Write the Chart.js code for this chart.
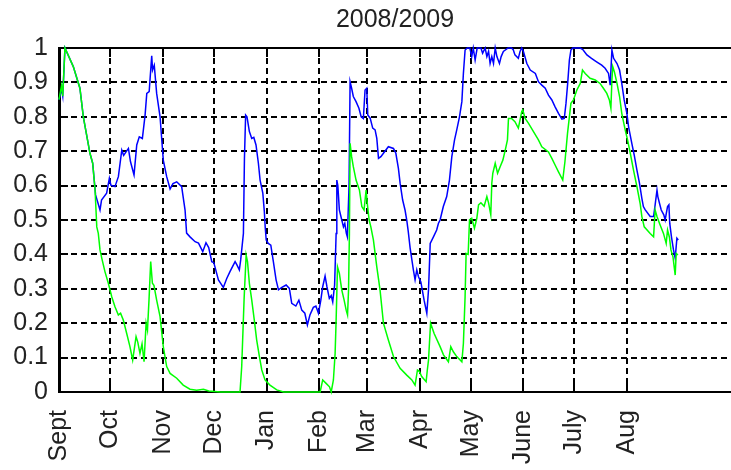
<!DOCTYPE html>
<html lang="en">
<head>
  <meta charset="UTF-8">
  <title>2008/2009</title>
  <script src="https://cdn.jsdelivr.net/npm/chart.js"></script>
  <style>
    body { margin: 0; background: #fff; }
    #wrap { width: 731px; height: 470px; position: relative; }
  </style>
</head>
<body>
  <div id="wrap"><canvas id="chart"></canvas></div>

  <script>
    // month ticks (day of season, Sept 1 = 0)
    const monthNames = ['Sept', 'Oct', 'Nov', 'Dec', 'Jan', 'Feb', 'Mar', 'Apr', 'May', 'June', 'July', 'Aug'];
    const monthStarts = [0, 30, 61, 91, 122, 153, 181, 212, 242, 273, 303, 334];

    // blue series
    const blueDays = [0, 1.5, 2.2, 3.5, 8.4, 12.3, 14.3, 18.2, 19.8, 20.8, 21.5, 24.1, 25, 28, 29.6, 30.5, 32.9, 34.9, 36.9, 38,
      40.8, 42, 44.1, 45.7, 47.2, 49, 50.6, 51.6, 53, 54.5, 55, 56, 57.4, 59.4, 61.3, 63.3, 65.3, 67, 69.2, 72.1,
      74.1, 75, 77, 80, 82, 84.5, 86.4, 88, 89.8, 91, 93.7, 96.6, 98.6, 100.5, 103.5, 104.5, 106, 106.8, 108.4, 109,
      109.7, 110.5, 111.9, 113.3, 114.5, 115.8, 117.2, 118.2, 119.8, 120.7, 121.2, 121.8, 123, 124.5, 126, 127.6, 129, 131, 133.5, 135.4,
      136.8, 139.2, 141, 142.7, 144.5, 146, 147.5, 149.5, 151, 152.5, 153.9, 155, 156.4, 157.5, 158.9, 160, 160.9, 162, 162.9, 163.3,
      163.9, 164.8, 167.2, 168, 168.9, 169.5, 170.5, 171.1, 172, 173, 174.6, 176.3, 177.6, 178.9, 179.9, 180.9, 181.5, 182.9, 184.4, 185.8,
      186.8, 187.8, 189.2, 190.7, 193.6, 196.6, 198, 199.5, 200.5, 202, 203.4, 204.4, 205.3, 206.4, 208.3, 209.3, 210.3, 211.3, 212.7, 214.6,
      216.2, 217.2, 218.2, 220.1, 222, 223, 224, 225.9, 227.9, 229.5, 230.9, 232.5, 233.8, 235.4, 236.8, 237.7, 238.7, 240, 241.5, 242.6,
      243.5, 244.6, 245.8, 248, 249, 250.5, 251.5, 252.5, 253.4, 254.4, 255.4, 256.4, 257.4, 258.9, 259.9, 261.2, 264, 266, 267, 268,
      270, 271, 272, 273, 275, 277, 280, 281.8, 283.8, 285.8, 287.7, 289.7, 291.6, 293.6, 295.6, 297, 298, 299, 300, 300.9,
      302, 306.4, 308, 310.3, 313, 316, 319, 321, 323, 324, 325, 326, 328, 329.5, 330.8, 332.2, 333.8, 334.8, 336.7, 338.1,
      339.7, 341.2, 342.6, 343.5, 344.5, 347.5, 349.5, 350.4, 351.5, 352, 353, 354, 355.5, 356.3, 357, 357.7, 358.5, 359, 360, 361.2,
      362.2, 363.2, 364];
    const blueVals = [0.85, 0.88, 0.86, 1.0, 0.946, 0.883, 0.80, 0.694, 0.665, 0.611, 0.573, 0.529, 0.558, 0.578, 0.621, 0.601, 0.597, 0.626, 0.703, 0.688,
      0.708, 0.67, 0.631, 0.718, 0.742, 0.737, 0.805, 0.868, 0.873, 0.977, 0.936, 0.95, 0.868, 0.80, 0.674, 0.626, 0.59, 0.606, 0.611, 0.597,
      0.529, 0.462, 0.451, 0.437, 0.433, 0.408, 0.434, 0.42, 0.379, 0.376, 0.326, 0.304, 0.33, 0.35, 0.379, 0.37, 0.355, 0.384, 0.461, 0.679,
      0.805, 0.80, 0.757, 0.737, 0.74, 0.718, 0.665, 0.616, 0.578, 0.524, 0.48, 0.442, 0.432, 0.427, 0.379, 0.326, 0.297, 0.304, 0.311, 0.301,
      0.258, 0.25, 0.267, 0.238, 0.229, 0.195, 0.224, 0.246, 0.25, 0.229, 0.267, 0.306, 0.337, 0.306, 0.272, 0.28, 0.262, 0.311, 0.461, 0.616,
      0.60, 0.529, 0.48, 0.49, 0.461, 0.451, 0.60, 0.902, 0.883, 0.859, 0.844, 0.825, 0.80, 0.795, 0.878, 0.883, 0.805, 0.796, 0.767, 0.762,
      0.737, 0.679, 0.684, 0.694, 0.713, 0.708, 0.694, 0.65, 0.607, 0.558, 0.529, 0.50, 0.466, 0.418, 0.355, 0.326, 0.355, 0.335, 0.32, 0.267,
      0.229, 0.297, 0.432, 0.451, 0.471, 0.49, 0.50, 0.539, 0.568, 0.616, 0.684, 0.733, 0.762, 0.80, 0.844, 0.926, 0.994, 1.0, 1.0, 0.975,
      1.0, 0.965, 1.0, 1.0, 0.985, 1.0, 0.975, 0.99, 0.955, 0.975, 0.955, 1.0, 0.975, 0.955, 0.975, 0.99, 1.0, 1.0, 0.995, 0.98,
      0.97, 0.99, 1.0, 0.99, 0.955, 0.936, 0.926, 0.902, 0.892, 0.883, 0.863, 0.849, 0.829, 0.81, 0.793, 0.795, 0.839, 0.897, 0.965, 0.994,
      1.0, 1.0, 0.995, 0.98, 0.97, 0.96, 0.95, 0.941, 0.926, 0.892, 0.994, 0.97, 0.955, 0.936, 0.897, 0.849, 0.81, 0.771, 0.723, 0.689,
      0.645, 0.607, 0.563, 0.539, 0.53, 0.51, 0.51, 0.544, 0.587, 0.568, 0.548, 0.529, 0.515, 0.50, 0.52, 0.539, 0.544, 0.49, 0.451, 0.413,
      0.389, 0.447, 0.442];

    // green series
    const greenDays = [0, 1.5, 2.2, 3.5, 8.4, 12.3, 14.3, 18.2, 19.8, 21.2, 22.2, 23.1, 24.1, 25.1, 27, 29, 31, 32.9, 34.9, 36.2,
      37.8, 39.8, 41.7, 43.3, 45.3, 46.3, 47.6, 48.8, 50, 51.2, 52, 52.9, 53.9, 54.9, 55.8, 57.4, 59.4, 61.3, 63.3, 65.3,
      69.2, 73, 77, 80.9, 84.9, 88, 95, 106.4, 107.4, 108.8, 110, 110.8, 111.9, 113.3, 114.8, 116.2, 117.8, 119.2, 121.1, 124,
      128, 132, 153.5, 155, 157, 159, 160, 161.3, 162.3, 162.9, 163.7, 164.8, 166.2, 167.6, 168.8, 169.6, 170.2, 170.7, 171.1, 172,
      173, 174.6, 176.6, 178, 179.3, 180.5, 181.3, 182.3, 183.3, 184.8, 186.8, 188.7, 190.7, 193.6, 196.6, 200.5, 204.4, 207.4, 209.3, 210.7,
      211.8, 213.2, 215.8, 216.5, 217.2, 218.4, 220.5, 224, 226, 228.9, 230.3, 231.8, 233.8, 236.8, 237.7, 238.7, 239.3, 240.5, 241.3, 242.6,
      244.2, 245.6, 246.6, 248, 249.9, 251.5, 252.5, 253.8, 254.4, 255, 256.4, 257.8, 259.3, 260.9, 262.3, 263.6, 264.2, 266, 268, 270,
      271, 272, 272.6, 274, 276, 278.9, 281.8, 283.8, 287.7, 289.7, 291.6, 293.6, 296.1, 297.4, 298.9, 300, 300.9, 302.4, 304.4, 306.4,
      307.7, 309.3, 312.2, 315.2, 318, 320, 322, 323.5, 324.4, 325, 325.5, 326.5, 328, 329.5, 330.8, 332.8, 334.2, 335.8, 337.7, 339.7,
      341.6, 342.6, 344, 347.5, 349.5, 350.4, 351.5, 353, 355.3, 356.9, 357.7, 358.8, 359.7, 360.9, 362.2, 362.8, 363.8];
    const greenVals = [0.85, 0.89, 0.86, 1.0, 0.946, 0.883, 0.80, 0.694, 0.665, 0.587, 0.48, 0.461, 0.413, 0.39, 0.35, 0.316, 0.277, 0.248, 0.224, 0.229,
      0.209, 0.17, 0.132, 0.093, 0.161, 0.145, 0.112, 0.14, 0.088, 0.20, 0.18, 0.267, 0.379, 0.316, 0.31, 0.267, 0.219, 0.132, 0.074, 0.054,
      0.04, 0.02, 0.008, 0.005, 0.008, 0.003, 0.0, 0.0, 0.074, 0.27, 0.398, 0.379, 0.316, 0.267, 0.209, 0.151, 0.103, 0.064, 0.035, 0.02,
      0.006, 0.0, 0.0, 0.035, 0.025, 0.015, 0.0, 0.035, 0.112, 0.209, 0.364, 0.345, 0.297, 0.267, 0.238, 0.224, 0.297, 0.461, 0.723, 0.684,
      0.655, 0.616, 0.587, 0.539, 0.529, 0.587, 0.544, 0.50, 0.48, 0.442, 0.364, 0.297, 0.20, 0.151, 0.103, 0.069, 0.049, 0.035, 0.02, 0.064,
      0.06, 0.045, 0.03, 0.064, 0.093, 0.20, 0.17, 0.132, 0.108, 0.088, 0.132, 0.117, 0.103, 0.088, 0.141, 0.277, 0.403, 0.40, 0.50, 0.505,
      0.476, 0.505, 0.544, 0.55, 0.54, 0.568, 0.55, 0.515, 0.607, 0.636, 0.665, 0.636, 0.655, 0.674, 0.703, 0.733, 0.795, 0.795, 0.786, 0.767,
      0.791, 0.815, 0.82, 0.795, 0.781, 0.757, 0.733, 0.713, 0.698, 0.679, 0.66, 0.64, 0.616, 0.67, 0.752, 0.80, 0.839, 0.849, 0.878, 0.897,
      0.936, 0.926, 0.912, 0.907, 0.897, 0.883, 0.868, 0.849, 0.825, 0.907, 0.946, 0.93, 0.897, 0.859, 0.81, 0.762, 0.733, 0.694, 0.645, 0.597,
      0.548, 0.51, 0.48, 0.461, 0.451, 0.529, 0.51, 0.49, 0.461, 0.432, 0.471, 0.45, 0.413, 0.393, 0.34, 0.403, 0.398];

    const toPoints = (days, vals) => days.map((d, i) => ({ x: d, y: vals[i] }));

    // solid top edge plus short inward tick marks, drawn under the curves
    const boxPlugin = {
      id: 'box',
      beforeDatasetsDraw(chart) {
        const { ctx, chartArea: a, scales: { x, y } } = chart;
        ctx.save();
        ctx.strokeStyle = '#000';
        ctx.lineWidth = 2;
        ctx.beginPath();
        ctx.moveTo(a.left, a.top);
        ctx.lineTo(a.right, a.top);
        ctx.stroke();
        ctx.lineWidth = 2;
        ctx.beginPath();
        x.ticks.forEach(t => {
          const px = Math.round(x.getPixelForValue(t.value));
          ctx.moveTo(px, a.bottom); ctx.lineTo(px, a.bottom - 9);
          ctx.moveTo(px, a.top); ctx.lineTo(px, a.top + 9);
        });
        y.ticks.forEach(t => {
          const py = Math.round(y.getPixelForValue(t.value));
          ctx.moveTo(a.left, py); ctx.lineTo(a.left + 9, py);
        });
        ctx.stroke();
        ctx.restore();
      }
    };

    Chart.defaults.font.family = '"Liberation Sans", Arial, sans-serif';
    Chart.defaults.color = '#222';

    new Chart(document.getElementById('chart'), {
      type: 'line',
      data: {
        datasets: [
          {
            label: 'green',
            data: toPoints(greenDays, greenVals),
            borderColor: '#00ff00',
            borderWidth: 1.5,
            pointRadius: 0,
            tension: 0,
            clip: false
          },
          {
            label: 'blue',
            data: toPoints(blueDays, blueVals),
            borderColor: '#0000ff',
            borderWidth: 1.5,
            pointRadius: 0,
            tension: 0,
            clip: false
          }
        ]
      },
      options: {
        responsive: true,
        maintainAspectRatio: false,
        animation: false,
        layout: { padding: { left: 0, right: 0, top: 0, bottom: 0 } },
        plugins: {
          legend: { display: false },
          tooltip: { enabled: false },
          title: {
            display: true,
            text: '2008/2009',
            fullSize: false,
            font: { size: 25, weight: 'normal', lineHeight: 1.2 },
            color: '#222',
            padding: { top: 5, bottom: 13 }
          }
        },
        scales: {
          x: {
            type: 'linear',
            min: 0,
            max: 395,
            afterBuildTicks: axis => { axis.ticks = monthStarts.map(v => ({ value: v })); },
            afterFit: axis => { axis.height = 78; },
            ticks: {
              autoSkip: false,
              maxRotation: 90,
              minRotation: 90,
              padding: 18,
              font: { size: 25 },
              callback: value => monthNames[monthStarts.indexOf(value)]
            },
            grid: { color: '#000', lineWidth: 2, drawTicks: false },
            border: { color: '#000', width: 2, dash: [6, 4] }
          },
          y: {
            min: 0,
            max: 1,
            afterFit: axis => { axis.width = 59; },
            ticks: {
              stepSize: 0.1,
              padding: 11,
              font: { size: 25 },
              callback: value => String(+value.toFixed(1))
            },
            grid: { color: '#000', lineWidth: 2, drawTicks: false },
            border: { color: '#000', width: 3, dash: [6, 4] }
          }
        }
      },
      plugins: [boxPlugin]
    });
  </script>
</body>
</html>
